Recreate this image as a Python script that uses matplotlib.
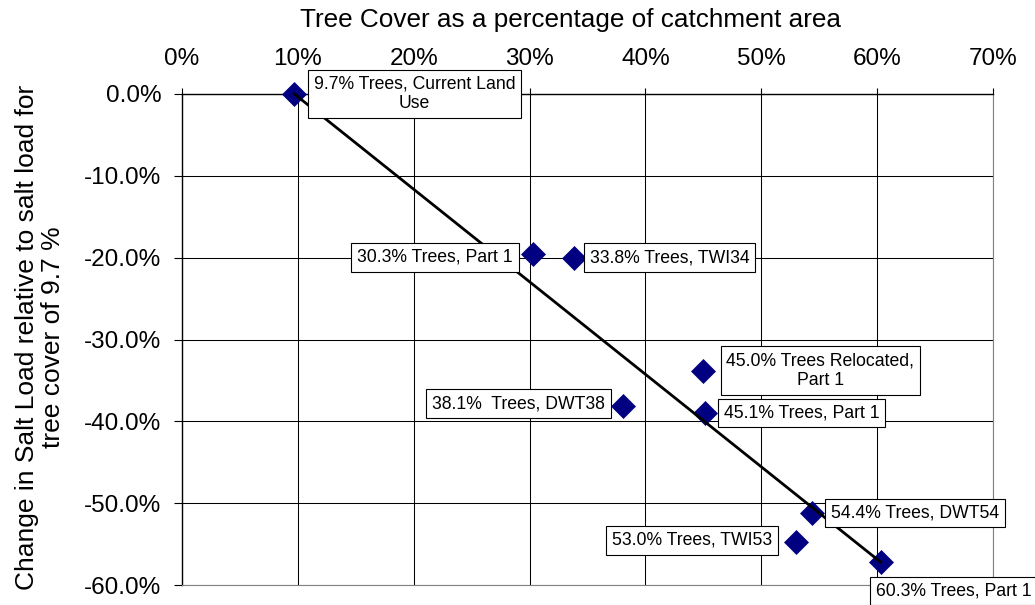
import matplotlib
matplotlib.use("Agg")
import matplotlib.pyplot as plt
from matplotlib.ticker import FuncFormatter

plt.rcParams['font.family'] = ['Liberation Sans', 'DejaVu Sans']

# tree cover (% of catchment) and change in salt load (%)
cover = [9.7, 30.3, 33.8, 45.0, 38.1, 45.1, 54.4, 53.0, 60.3]
change = [0.0, -19.6, -20.0, -33.9, -38.1, -39.0, -51.2, -54.8, -57.2]
labels = ["9.7% Trees, Current Land\nUse", "30.3% Trees, Part 1", "33.8% Trees, TWI34",
          "45.0% Trees Relocated,\nPart 1", "38.1%  Trees, DWT38", "45.1% Trees, Part 1",
          "54.4% Trees, DWT54", "53.0% Trees, TWI53", "60.3% Trees, Part 1"]
x_ticks = [0, 10, 20, 30, 40, 50, 60, 70]
y_ticks = [0, -10, -20, -30, -40, -50, -60]

# label offsets in pixels from each point
offsets = [(120, 0), (-98, -3), (96, 0), (117, 1), (-105, 2), (97, 0),
           (103, 0), (-104, 2), (73, -29)]

fig = plt.figure(figsize=(10.35, 6.05), dpi=100)
ax = fig.add_axes([182/1035, 1-585/605, 811/1035, 491/605])

ax.set_xlim(0, 70)
ax.set_ylim(-60, 0)
ax.set_xticks(x_ticks)
ax.set_yticks(y_ticks)
ax.xaxis.set_major_formatter(FuncFormatter(lambda v, p: "%d%%" % v))
ax.yaxis.set_major_formatter(FuncFormatter(lambda v, p: ("%.1f%%" % v).replace("-0.0", "0.0")))
ax.xaxis.tick_top()
ax.tick_params(axis='x', direction='out', length=4, width=0.8, pad=13, labelsize=17.5)
ax.tick_params(axis='y', direction='out', length=6, width=0.8, pad=9, labelsize=17.5)

ax.grid(True, color='black', linewidth=0.75)
ax.set_axisbelow(True)
for s in ['bottom', 'right']:
    ax.spines[s].set_color('#808080')
for s in ['top', 'left']:
    ax.spines[s].set_color('black')
    ax.spines[s].set_linewidth(1.0)

ax.plot(cover, change, linestyle='none', marker='D', markersize=12.5,
        color='#000080', markeredgecolor='#000080', markeredgewidth=0.5,
        zorder=3, clip_on=False)
ax.plot([cover[0], cover[-1]], [change[0], change[-1]], color='black', linewidth=2,
        zorder=4, clip_on=False)

for x, y, lab, off in zip(cover, change, labels, offsets):
    ax.annotate(lab, (x, y), xytext=off, textcoords='offset pixels',
                ha='center', va='center', multialignment='center', fontsize=12.7,
                bbox=dict(boxstyle='square,pad=0.33', facecolor='white', edgecolor='black', linewidth=0.8),
                annotation_clip=False, zorder=5)

fig.text(571/1035, 1-20/605, "Tree Cover as a percentage of catchment area",
         ha='center', va='center', fontsize=18.8)
fig.text(40/1035, 1-337/605, "Change in Salt Load relative to salt load for\ntree cover of 9.7 %",
         ha='center', va='center', rotation=90, multialignment='center', fontsize=19,
         linespacing=1.15)

fig.savefig("out.png", dpi=100)
